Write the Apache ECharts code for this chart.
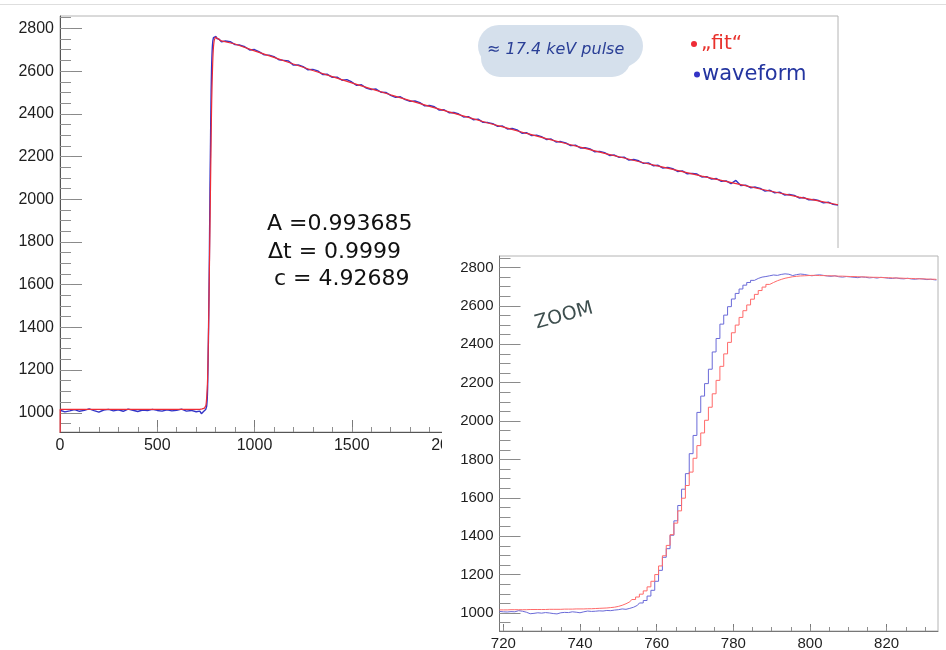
<!DOCTYPE html>
<html>
<head>
<meta charset="utf-8">
<script src="https://cdn.jsdelivr.net/npm/echarts@6/dist/echarts.min.js"></script>
<style>
  html, body { margin: 0; padding: 0; background: #ffffff; }
  #chart { width: 946px; height: 650px; }
</style>
</head>
<body>
<div id="chart"></div>
<script>
// Recorded waveform (ADC counts) and its fitted pulse shape, per sample index.

// Pre-trigger baseline, samples 0..700 every 25
const waveBaselineStart = 0;
const waveBaselineStep = 25;
const waveBaseline = [1012, 1004, 1009, 1015, 1007, 1011, 1018, 1010, 1003, 1013,
  1016, 1009, 1014, 1007, 1017, 1012, 1006, 1013, 1010, 1016,
  1011, 1008, 1014, 1009, 1012, 1017, 1008, 1011, 1005];

// Rising edge, every sample from 719 to 833
const riseStart = 719;
const waveRise = [1008, 1006, 1005, 1007, 1006, 1012, 1009, 1004, 996, 998,
  1001, 999, 1002, 1000, 997, 995, 1001, 1003, 1002, 1006,
  1004, 1001, 1006, 1010, 1008, 1009, 1011, 1010, 1013, 1012,
  1015, 1017, 1021, 1019, 1024, 1030, 1040, 1052, 1065, 1088,
  1118, 1165, 1222, 1290, 1335, 1405, 1480, 1560, 1645, 1726,
  1830, 1925, 2045, 2130, 2195, 2270, 2360, 2430, 2505, 2552,
  2596, 2636, 2665, 2688, 2708, 2722, 2733, 2743, 2750, 2753,
  2757, 2761, 2759, 2764, 2767, 2765, 2758, 2763, 2766, 2764,
  2760, 2757, 2760, 2762, 2759, 2756, 2754, 2757, 2752, 2750,
  2753, 2751, 2749, 2747, 2751, 2749, 2746, 2748, 2745, 2749,
  2747, 2744, 2743, 2746, 2742, 2741, 2744, 2740, 2739, 2742,
  2740, 2737, 2739, 2736, 2735];
const fitRise = [1016, 1016, 1016, 1017, 1017, 1017, 1017, 1017, 1018, 1018,
  1018, 1018, 1018, 1019, 1019, 1019, 1019, 1020, 1020, 1020,
  1021, 1021, 1021, 1022, 1022, 1023, 1024, 1025, 1026, 1028,
  1030, 1034, 1040, 1048, 1058, 1070, 1083, 1098, 1115, 1136,
  1165, 1200, 1245, 1298, 1352, 1408, 1468, 1532, 1598, 1664,
  1734, 1806, 1872, 1938, 2004, 2072, 2142, 2212, 2285, 2350,
  2410, 2460, 2500, 2540, 2575, 2605, 2635, 2660, 2680, 2698,
  2712, 2722, 2731, 2738, 2744, 2748, 2752, 2754, 2756, 2757,
  2758, 2759, 2759, 2758, 2758, 2757, 2757, 2756, 2755, 2755,
  2754, 2753, 2753, 2752, 2751, 2751, 2750, 2749, 2749, 2748,
  2747, 2747, 2746, 2745, 2745, 2744, 2743, 2743, 2742, 2741,
  2741, 2740, 2739, 2739, 2738];

// Decay tail, samples 850..4000 every 25
const waveTailStart = 850;
const waveTailStep = 25;
const waveTail = [2741, 2738, 2724, 2722, 2714, 2699, 2701, 2690, 2676, 2675,
  2668, 2653, 2650, 2647, 2628, 2629, 2621, 2606, 2608, 2601,
  2584, 2585, 2571, 2572, 2557, 2560, 2549, 2533, 2536, 2520,
  2514, 2516, 2501, 2500, 2486, 2477, 2480, 2466, 2458, 2460,
  2452, 2437, 2439, 2433, 2417, 2419, 2405, 2406, 2399, 2385,
  2387, 2372, 2375, 2360, 2359, 2354, 2341, 2343, 2329, 2331,
  2325, 2309, 2311, 2298, 2300, 2293, 2280, 2282, 2268, 2270,
  2264, 2251, 2253, 2240, 2241, 2236, 2222, 2224, 2218, 2205,
  2207, 2196, 2197, 2183, 2186, 2180, 2168, 2170, 2157, 2159,
  2146, 2149, 2143, 2130, 2133, 2119, 2121, 2118, 2104, 2106,
  2094, 2097, 2084, 2086, 2073, 2088, 2064, 2066, 2054, 2057,
  2051, 2038, 2042, 2030, 2033, 2020, 2022, 2018, 2006, 2008,
  1997, 1999, 1994, 1983, 1986, 1976, 1973];

// Fit: first two samples, flat baseline (100..700), decay tail (900..4000)
const fitHead = [0, 1016];
const fitBaselineStart = 100;
const fitBaselineStep = 100;
const fitBaseline = [1016, 1016, 1016, 1016, 1016, 1016, 1016];
const fitTailStart = 900;
const fitTailStep = 100;
const fitTail = [2727, 2695, 2664, 2633, 2603, 2574, 2545, 2517, 2489, 2462,
  2435, 2409, 2383, 2357, 2333, 2308, 2284, 2261, 2238, 2215,
  2193, 2171, 2150, 2129, 2108, 2088, 2068, 2048, 2029, 2010,
  1992, 1974];

// Axis tick labels
const mainXLabels = [0, 500, 1000, 1500, 2000, 2500, 3000, 3500, 4000];
const mainYLabels = [1000, 1200, 1400, 1600, 1800, 2000, 2200, 2400, 2600, 2800];
const zoomXLabels = [720, 740, 760, 780, 800, 820];
const zoomYLabels = [1000, 1200, 1400, 1600, 1800, 2000, 2200, 2400, 2600, 2800];

const fitName = '\u201Efit\u201C';
const waveName = 'waveform';
const BLUE = '#3434c6';
const RED = '#ee2b36';

function seq(start, step, values) {
  return values.map((v, i) => [start + i * step, v]);
}
function ticksBetween(lo, hi, step) {
  const out = [];
  for (let v = Math.ceil(lo / step) * step; v <= hi; v += step) out.push(v);
  return out;
}
const plain = (v) => String(v);

const waveRisePts = seq(riseStart, 1, waveRise);
const fitRisePts = seq(riseStart, 1, fitRise);

const mainWave = seq(waveBaselineStart, waveBaselineStep, waveBaseline)
  .concat(waveRisePts)
  .concat(seq(waveTailStart, waveTailStep, waveTail));
const mainFit = seq(0, 1, fitHead)
  .concat(seq(fitBaselineStart, fitBaselineStep, fitBaseline))
  .concat(fitRisePts)
  .concat(seq(fitTailStart, fitTailStep, fitTail));

const MAIN_X = [0, 4000];
const MAIN_Y = [910, 2858];
const ZOOM_X = [719, 833.4];
const ZOOM_Y = [906, 2860];

const labelFont = { fontFamily: 'Liberation Sans', color: '#1e1e1e', formatter: plain };

// Overlay axis that only draws short minor ticks
function minorAxis(gridIndex, range, step, len, position, z) {
  return {
    type: 'value', gridIndex, min: range[0], max: range[1], position, z,
    axisLine: { show: false },
    axisTick: { show: true, inside: true, length: len, lineStyle: { color: '#8f8f8f' }, customValues: ticksBetween(range[0], range[1], step) },
    axisLabel: { show: false },
    splitLine: { show: false }
  };
}

const chart = echarts.init(document.getElementById('chart'), null, { renderer: 'canvas' });

chart.setOption({
  animation: false,
  backgroundColor: '#ffffff',
  legend: [
    {
      data: [fitName], left: 686, top: 29, icon: 'circle', itemWidth: 6, itemHeight: 6,
      selectedMode: false, z: 30,
      textStyle: { color: '#e8312c', fontSize: 20, fontFamily: 'DejaVu Sans', padding: [0, 0, 0, -1] }
    },
    {
      data: [waveName], left: 689, top: 59, icon: 'circle', itemWidth: 6, itemHeight: 6,
      selectedMode: false, z: 30,
      textStyle: { color: '#2435a0', fontSize: 21, fontFamily: 'DejaVu Sans', padding: [0, 0, 0, -3] }
    }
  ],
  grid: [
    { left: 60, top: 16, width: 778, height: 416, show: true, borderColor: '#b4b4b4', borderWidth: 1, outerBoundsMode: 'none', z: 0 },
    { left: 499.5, top: 256, width: 438.5, height: 375, show: true, borderColor: '#b4b4b4', borderWidth: 1, backgroundColor: '#ffffff', outerBoundsMode: 'none', z: 11 }
  ],
  xAxis: [
    {
      type: 'value', gridIndex: 0, min: MAIN_X[0], max: MAIN_X[1], position: 'bottom',
      axisLine: { lineStyle: { color: '#555555', width: 1 } },
      axisTick: { inside: true, length: 12, lineStyle: { color: '#7a7a7a' }, customValues: mainXLabels },
      axisLabel: Object.assign({ fontSize: 16, margin: 6, customValues: mainXLabels }, labelFont),
      splitLine: { show: false }
    },
    minorAxis(0, MAIN_X, 100, 5, 'bottom', 0),
    {
      type: 'value', gridIndex: 1, min: ZOOM_X[0], max: ZOOM_X[1], position: 'bottom', z: 12,
      axisLine: { lineStyle: { color: '#777777', width: 1 } },
      axisTick: { inside: true, length: 7, lineStyle: { color: '#7a7a7a' }, customValues: zoomXLabels },
      axisLabel: Object.assign({ fontSize: 15, margin: 5, customValues: zoomXLabels }, labelFont),
      splitLine: { show: false }
    },
    minorAxis(1, ZOOM_X, 5, 4, 'bottom', 12)
  ],
  yAxis: [
    {
      type: 'value', gridIndex: 0, min: MAIN_Y[0], max: MAIN_Y[1], position: 'left',
      axisLine: { show: true, lineStyle: { color: '#555555', width: 1 } },
      axisTick: { show: true, inside: true, length: 22, lineStyle: { color: '#8a8a8a' }, customValues: mainYLabels },
      axisLabel: Object.assign({ fontSize: 16, margin: 6, customValues: mainYLabels }, labelFont),
      splitLine: { show: false }
    },
    minorAxis(0, MAIN_Y, 50, 11, 'left', 0),
    {
      type: 'value', gridIndex: 1, min: ZOOM_Y[0], max: ZOOM_Y[1], position: 'left', z: 12,
      axisLine: { show: true, lineStyle: { color: '#777777', width: 1 } },
      axisTick: { show: true, inside: true, length: 21, lineStyle: { color: '#8a8a8a' }, customValues: zoomYLabels },
      axisLabel: Object.assign({ fontSize: 15, margin: 6, customValues: zoomYLabels }, labelFont),
      splitLine: { show: false }
    },
    minorAxis(1, ZOOM_Y, 50, 11, 'left', 12)
  ],
  series: [
    {
      name: waveName, type: 'line', xAxisIndex: 0, yAxisIndex: 0, data: mainWave,
      symbol: 'none', color: BLUE, lineStyle: { color: BLUE, width: 1.4 }, z: 2, clip: true
    },
    {
      name: fitName, type: 'line', xAxisIndex: 0, yAxisIndex: 0, data: mainFit,
      symbol: 'none', color: RED, lineStyle: { color: RED, width: 1.2 }, z: 3, clip: true
    },
    {
      name: waveName, type: 'line', xAxisIndex: 2, yAxisIndex: 2, data: waveRisePts, step: 'middle',
      symbol: 'none', color: BLUE, lineStyle: { color: '#6a6ad8', width: 1 }, z: 13, clip: true
    },
    {
      name: fitName, type: 'line', xAxisIndex: 2, yAxisIndex: 2, data: fitRisePts, step: 'middle',
      symbol: 'none', color: RED, lineStyle: { color: '#ff6a6a', width: 1 }, z: 14, clip: true
    }
  ],
  graphic: {
    elements: [
      { type: 'line', shape: { x1: 0, y1: 4.5, x2: 946, y2: 4.5 }, style: { stroke: '#dedede', lineWidth: 1 }, z: 1 },
      // white panel holding the zoomed view
      { type: 'rect', shape: { x: 442, y: 248, width: 504, height: 402 }, style: { fill: '#ffffff' }, z: 10 },
      // note bubble
      { type: 'rect', shape: { x: 478, y: 25, width: 165, height: 42, r: 21 }, style: { fill: '#d5e0ec' }, z: 20 },
      { type: 'rect', shape: { x: 481, y: 38, width: 150, height: 39, r: 19 }, style: { fill: '#d5e0ec' }, z: 20 },
      { type: 'text', x: 487, y: 50, z: 21,
        style: { text: '\u2248 17.4 keV pulse', fontSize: 16, fontFamily: 'DejaVu Sans', fontStyle: 'italic', fill: '#2a3f96', verticalAlign: 'middle' } },
      // fit parameters
      { type: 'text', x: 267, y: 224, z: 21,
        style: { text: 'A =0.993685', fontSize: 22, fontFamily: 'DejaVu Sans', fill: '#111111', verticalAlign: 'middle' } },
      { type: 'text', x: 268, y: 252, z: 21,
        style: { text: '\u0394t = 0.9999', fontSize: 22, fontFamily: 'DejaVu Sans', fill: '#111111', verticalAlign: 'middle' } },
      { type: 'text', x: 274, y: 279, z: 21,
        style: { text: 'c = 4.92689', fontSize: 22, fontFamily: 'DejaVu Sans', fill: '#111111', verticalAlign: 'middle' } },
      // zoom label
      { type: 'text', x: 538, y: 333, rotation: 0.27, z: 21,
        style: { text: 'ZOOM', fontSize: 19, fontFamily: 'DejaVu Sans', fill: '#3d4e4e', verticalAlign: 'bottom' } }
    ]
  }
});
</script>
</body>
</html>
